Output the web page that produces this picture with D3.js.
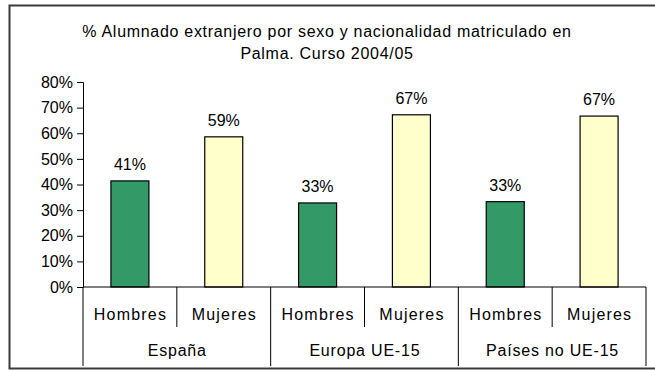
<!DOCTYPE html>
<html>
<head>
<meta charset="utf-8">
<script src="https://cdn.jsdelivr.net/npm/d3@7"></script>
<style>
  html, body { margin: 0; padding: 0; background: #fff; }
  svg { display: block; font-family: "Liberation Sans", Arial, sans-serif; }
</style>
</head>
<body>
<svg id="chart" width="655" height="370"></svg>
<script>
// Data
const groups = ["España", "Europa UE-15", "Países no UE-15"];
const sexes = ["Hombres", "Mujeres"];
const values = [41.4, 58.6, 32.8, 67.2, 33.3, 66.7]; // % per group x sex, in order
const yTicks = [0, 10, 20, 30, 40, 50, 60, 70, 80];
const titleLines = ["% Alumnado extranjero por sexo y nacionalidad matriculado en", "Palma. Curso 2004/05"];

const colors = { Hombres: "#339966", Mujeres: "#FFFFCC" };

const rows = [];
groups.forEach((g, gi) => sexes.forEach((s, si) => {
  rows.push({ key: g + "|" + s, group: g, sex: s, value: values[gi * sexes.length + si] });
}));

const svg = d3.select("#chart");
const plotL = 83, plotR = 646, plotT = 82, plotB = 287;

// Outer frame
svg.append("rect")
  .attr("x", 9.5).attr("y", 5.5)
  .attr("width", 660).attr("height", 363)
  .attr("fill", "none").attr("stroke", "#3a3a3a").attr("stroke-width", 2);

// Title
svg.append("g").selectAll("text").data(titleLines).join("text")
  .attr("x", 327).attr("y", (d, i) => 37 + i * 22)
  .attr("text-anchor", "middle")
  .attr("font-size", 16).attr("letter-spacing", 0.7).attr("fill", "#000")
  .text(d => d);

// Scales
const y = d3.scaleLinear().domain([0, 80]).range([plotB, plotT]);
const xGroup = d3.scaleBand().domain(groups).range([plotL, plotR]).padding(0);
const x = d3.scaleBand().domain(rows.map(d => d.key)).range([plotL, plotR])
  .paddingInner(0.595).paddingOuter(0.2975);
const xCat = d3.scaleBand().domain(rows.map(d => d.key)).range([plotL, plotR]).padding(0);

// Y axis
const yAxis = d3.axisLeft(y).tickValues(yTicks).tickSize(6).tickPadding(4)
  .tickFormat(d => d + "%");
const gy = svg.append("g").attr("transform", `translate(${plotL},0)`).call(yAxis);
gy.select(".domain").attr("stroke", "#000");
gy.selectAll(".tick line").attr("stroke", "#000");
gy.selectAll(".tick text").attr("font-size", 16).attr("font-family", "Liberation Sans, Arial, sans-serif").attr("fill", "#000");

// Bars
svg.append("g").selectAll("rect").data(rows).join("rect")
  .attr("x", d => x(d.key))
  .attr("y", d => y(d.value))
  .attr("width", x.bandwidth())
  .attr("height", d => y(0) - y(d.value))
  .attr("fill", d => colors[d.sex])
  .attr("stroke", "#000").attr("stroke-width", 1.2);

// Value labels
svg.append("g").selectAll("text").data(rows).join("text")
  .attr("x", d => x(d.key) + x.bandwidth() / 2)
  .attr("y", d => y(d.value) - 11)
  .attr("text-anchor", "middle")
  .attr("font-size", 16).attr("fill", "#000")
  .text(d => d3.format(".0f")(d.value) + "%");

// Category axis: baseline, separators and labels
const axisG = svg.append("g");
axisG.append("line")
  .attr("x1", plotL).attr("x2", plotR).attr("y1", plotB).attr("y2", plotB)
  .attr("stroke", "#000");
// inner separators between sexes
axisG.selectAll("line.inner").data(groups).join("line").attr("class", "inner")
  .attr("x1", g => xGroup(g) + xGroup.bandwidth() / 2)
  .attr("x2", g => xGroup(g) + xGroup.bandwidth() / 2)
  .attr("y1", plotB).attr("y2", 327)
  .attr("stroke", "#000");
// group separators
const edges = groups.map(g => xGroup(g)).concat([plotR]);
axisG.selectAll("line.outer").data(edges).join("line").attr("class", "outer")
  .attr("x1", d => d).attr("x2", d => d)
  .attr("y1", plotB).attr("y2", 366)
  .attr("stroke", "#000");
axisG.selectAll("text.sex").data(rows).join("text").attr("class", "sex")
  .attr("x", d => xCat(d.key) + xCat.bandwidth() / 2 + 0.6)
  .attr("y", 320)
  .attr("text-anchor", "middle").attr("font-size", 16).attr("letter-spacing", 1.2).attr("fill", "#000")
  .text(d => d.sex);
axisG.selectAll("text.grp").data(groups).join("text").attr("class", "grp")
  .attr("x", g => xGroup(g) + xGroup.bandwidth() / 2 + 0.4)
  .attr("y", 356)
  .attr("text-anchor", "middle").attr("font-size", 16).attr("letter-spacing", 0.8).attr("fill", "#000")
  .text(g => g);
</script>
</body>
</html>
